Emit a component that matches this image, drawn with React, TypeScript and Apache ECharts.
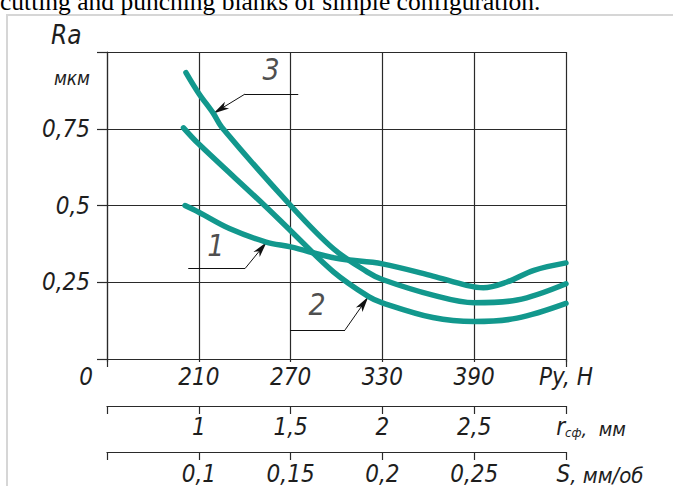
import React, { useEffect, useRef } from "react";
import * as echarts from "echarts";

const FONT = '"Liberation Sans Narrow", "DejaVu Sans Condensed", "Liberation Sans", sans-serif';
const INK = "#1e1e1e";
const TEAL = "#12988d";

// Py, H (x positions) and Ra, мкм values for each curve
const P_CURVE_1 = [201, 210, 230, 254, 270, 300, 330, 363, 385, 396, 411, 429, 450];
const RA_CURVE_1 = [0.5, 0.478, 0.425, 0.381, 0.365, 0.328, 0.31, 0.27, 0.24, 0.232, 0.25, 0.289, 0.313];

const P_CURVE_2 = [200, 210, 253, 270, 298, 321, 330, 363, 390, 418, 450];
const RA_CURVE_2 = [0.753, 0.7, 0.5, 0.418, 0.284, 0.203, 0.183, 0.135, 0.122, 0.133, 0.181];

const P_CURVE_3 = [201.6, 210, 219.5, 225, 270, 298, 320, 330, 363, 390, 418, 450];
const RA_CURVE_3 = [0.933, 0.865, 0.8, 0.755, 0.5, 0.359, 0.284, 0.259, 0.208, 0.183, 0.192, 0.245];

// axis definitions
const P_MIN = 150, P_MAX = 450, P_STEP = 60;
const R_MIN = 0.5, R_MAX = 3, R_STEP = 0.5;
const S_MIN = 0.05, S_MAX = 0.3, S_STEP = 0.05;
const RA_MIN = 0, RA_MAX = 1, RA_STEP = 0.25;

// curve labels (data coordinates): [label, P, Ra]
const CURVE_LABELS: [string, number, number][] = [
  ["3", 257.2, 0.942],
  ["1", 221.2, 0.369],
  ["2", 287.3, 0.178],
];
// leader: [start of shelf, elbow, arrow tip]
const LEADERS: [number, number][][] = [
  [[275, 0.863], [240.2, 0.863], [219.5, 0.8]],
  [[203.1, 0.2945], [240.2, 0.2945], [254.4, 0.381]],
  [[269.6, 0.0948], [305.6, 0.0948], [320.8, 0.203]],
];

const fmt = (v: number) => String(Number(v.toFixed(2))).replace(".", ",");
const zip = (xs: number[], ys: number[]) => xs.map((x, i) => [x, ys[i]]);

const baseText = { fontFamily: FONT, fontStyle: "italic", color: INK };

export default function App() {
  const ref = useRef<HTMLDivElement>(null);
  useEffect(() => {
    if (!ref.current) return;
    const chart = echarts.init(ref.current, null, { renderer: "svg" });
    const axisLineStyle = { color: "#2a2a2a", width: 1.2 };
    const curve = (xs: number[], ys: number[]) => ({
      type: "line",
      data: zip(xs, ys),
      showSymbol: false,
      smooth: 0.35,
      lineStyle: { color: TEAL, width: 5.5, cap: "round" },
      z: 5,
      silent: true,
    });
    const markData: any[] = [];
    LEADERS.forEach(([a, b, tip]) => {
      markData.push([
        { coord: a, symbol: "none" },
        { coord: b, symbol: "none" },
      ]);
      markData.push([
        { coord: b, symbol: "none" },
        { coord: tip, symbol: "arrow", symbolSize: [6, 16] },
      ]);
    });
    chart.setOption({
      animation: false,
      backgroundColor: "#ffffff",
      grid: { left: 107, right: 107, top: 52, bottom: 125, containLabel: false },
      xAxis: [
        {
          type: "value",
          min: P_MIN,
          max: P_MAX,
          interval: P_STEP,
          position: "bottom",
          axisLine: { show: true, lineStyle: axisLineStyle },
          axisTick: { show: true, length: 3, lineStyle: axisLineStyle },
          splitLine: { show: true, lineStyle: axisLineStyle },
          axisLabel: {
            ...baseText,
            fontSize: 24,
            margin: 6,
            showMinLabel: true,
            showMaxLabel: true,
            formatter: (v: number) =>
              v === P_MIN ? "{z|0}" : v === P_MAX ? "Py, H" : String(v),
            rich: {
              z: { ...baseText, fontSize: 24, padding: [0, 42, 0, 0] },
            },
          },
        },
        {
          type: "value",
          min: R_MIN,
          max: R_MAX,
          interval: R_STEP,
          position: "bottom",
          offset: 47,
          axisLine: { show: true, lineStyle: axisLineStyle },
          axisTick: { show: true, length: 8, lineStyle: axisLineStyle },
          splitLine: { show: false },
          axisLabel: {
            ...baseText,
            fontSize: 24,
            margin: 9,
            showMinLabel: true,
            showMaxLabel: true,
            formatter: (v: number) =>
              Math.abs(v - R_MIN) < 1e-6
                ? ""
                : Math.abs(v - R_MAX) < 1e-6
                ? "{r|r}{s|сф}{u|,  мм}"
                : fmt(v),
            rich: {
              r: { ...baseText, fontSize: 24, padding: [0, 0, 0, 50], verticalAlign: "bottom" },
              s: { ...baseText, fontSize: 13, verticalAlign: "bottom" },
              u: { ...baseText, fontSize: 20, verticalAlign: "bottom" },
            },
          },
        },
        {
          type: "value",
          min: S_MIN,
          max: S_MAX,
          interval: S_STEP,
          position: "bottom",
          offset: 93,
          axisLine: { show: true, lineStyle: axisLineStyle },
          axisTick: { show: true, length: 8, lineStyle: axisLineStyle },
          splitLine: { show: false },
          axisLabel: {
            ...baseText,
            fontSize: 24,
            margin: 10,
            showMinLabel: true,
            showMaxLabel: true,
            formatter: (v: number) =>
              Math.abs(v - S_MIN) < 1e-6
                ? ""
                : Math.abs(v - S_MAX) < 1e-6
                ? "{a|S}{u|, мм/об}"
                : fmt(v),
            rich: {
              a: { ...baseText, fontSize: 24, padding: [0, 0, 0, 68], verticalAlign: "bottom" },
              u: { ...baseText, fontSize: 22, verticalAlign: "bottom" },
            },
          },
        },
        {
          // longer end ticks of the Py axis
          type: "value",
          min: P_MIN,
          max: P_MAX,
          interval: P_MAX - P_MIN,
          position: "bottom",
          axisLine: { show: false },
          axisTick: { show: true, length: 8, lineStyle: axisLineStyle },
          splitLine: { show: false },
          axisLabel: { show: false },
        },
      ],
      yAxis: {
        type: "value",
        min: RA_MIN,
        max: RA_MAX,
        interval: RA_STEP,
        axisLine: { show: true, lineStyle: axisLineStyle },
        axisTick: { show: true, length: 10, lineStyle: axisLineStyle },
        splitLine: { show: true, lineStyle: axisLineStyle },
        axisLabel: {
          ...baseText,
          fontSize: 24,
          margin: 17,
          showMinLabel: true,
          showMaxLabel: true,
          formatter: (v: number) => (v <= RA_MIN + 1e-6 || v >= RA_MAX - 1e-6 ? "" : fmt(v)),
        },
      },
      graphic: [
        {
          type: "rect",
          shape: { x: 7, y: 15, width: 700, height: 500 },
          style: { fill: "none", stroke: "#d6d6d6", lineWidth: 2 },
          z: -10,
          silent: true,
        },
        {
          type: "text",
          x: 0,
          y: 1.5,
          style: {
            text: "cutting and punching blanks of simple configuration.",
            fontFamily: '"Liberation Serif", "Times New Roman", serif',
            fontSize: 25.5,
            fill: "#000",
            align: "left",
            verticalAlign: "middle",
          },
          silent: true,
        },
        {
          type: "text",
          x: 51,
          y: 34.5,
          style: {
            text: "Ra",
            fontFamily: FONT,
            fontStyle: "italic",
            fontSize: 26,
            fill: INK,
            align: "left",
            verticalAlign: "middle",
          },
          silent: true,
        },
        {
          type: "text",
          x: 90,
          y: 78,
          style: {
            text: "мкм",
            fontFamily: FONT,
            fontStyle: "italic",
            fontSize: 19,
            fill: INK,
            align: "right",
            verticalAlign: "middle",
          },
          silent: true,
        },
      ],
      series: [
        curve(P_CURVE_1, RA_CURVE_1),
        curve(P_CURVE_2, RA_CURVE_2),
        curve(P_CURVE_3, RA_CURVE_3),
        {
          type: "scatter",
          data: CURVE_LABELS.map(([t, x, y]) => [x, y, t]),
          symbolSize: 1,
          itemStyle: { color: "rgba(0,0,0,0)" },
          silent: true,
          z: 6,
          label: {
            show: true,
            position: "inside",
            formatter: (p: any) => p.data[2],
            fontFamily: FONT,
            fontStyle: "italic",
            fontSize: 30,
            color: INK,
          },
          markLine: {
            silent: true,
            animation: false,
            label: { show: false },
            lineStyle: { color: "#111", width: 1, type: "solid" },
            symbol: ["none", "none"],
            data: markData,
          },
        },
      ],
    });
    return () => chart.dispose();
  }, []);
  return (
    <div
      ref={ref}
      style={{ position: "fixed", left: 0, top: 0, width: 673, height: 486, background: "#fff" }}
    />
  );
}
